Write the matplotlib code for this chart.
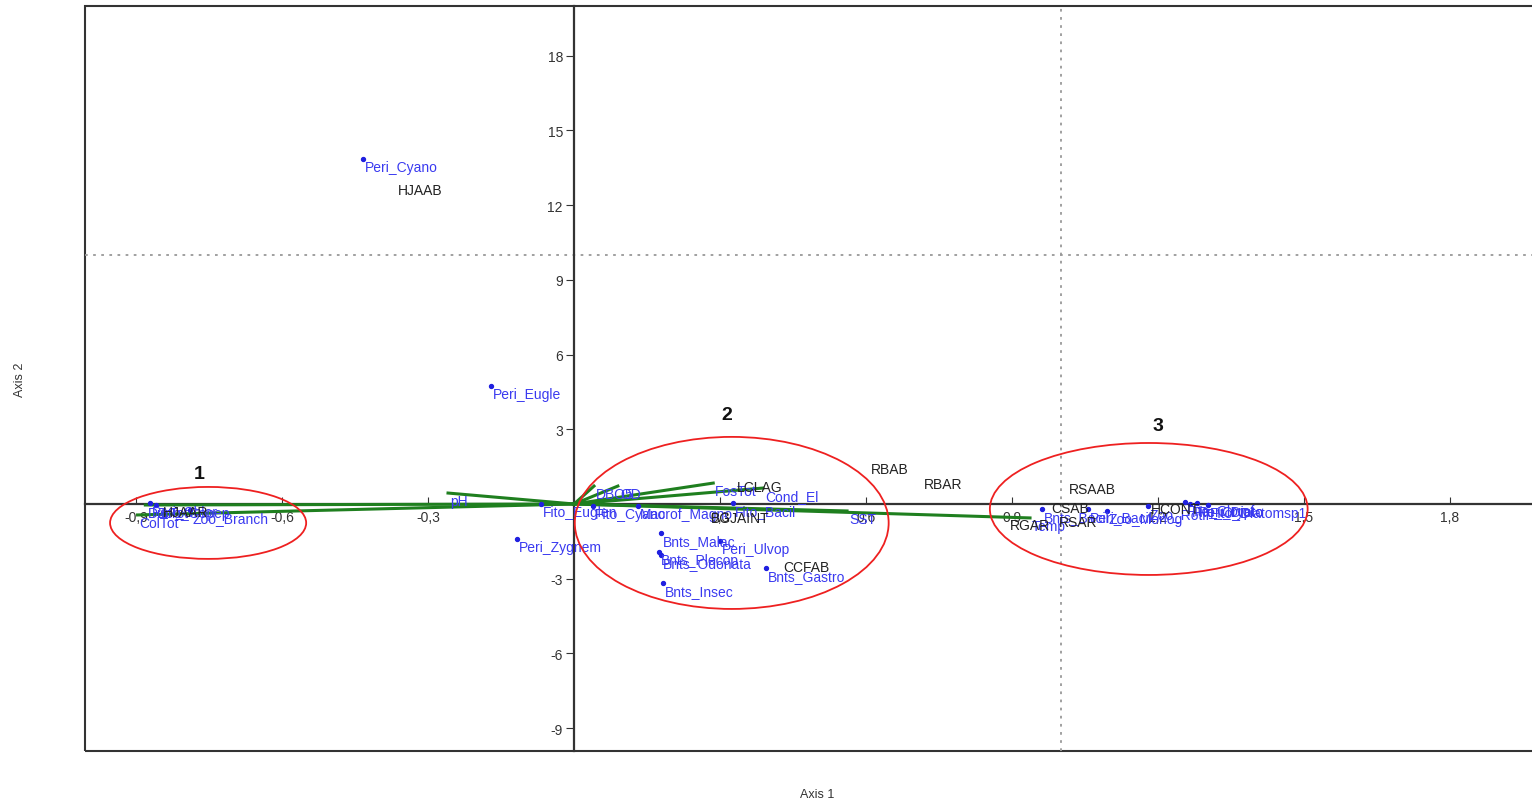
import matplotlib
matplotlib.use("Agg")
import matplotlib.pyplot as plt
from matplotlib.patches import Ellipse, Rectangle

plt.rcParams['font.family'] = ['Liberation Sans', 'DejaVu Sans']

# species scores (blue dots)
sp_names = ["Peri_Cyano", "Peri_Eugle", "Peri_Zygnem", "Fito_Euglen", "Fito_Cyano",
            "Macrof_Magno", "Fito_Bacil", "Bnts_Malac", "Bnts_Plecop", "Bnts_Odonata",
            "Peri_Ulvop", "Bnts_Gastro", "Bnts_Insec",
            "Peri_Chlor", "Zoo_Copep", "Zoo_Branch",
            "Bnts_Bacil", "Peri_Bacil", "Zoo_Monog", "Zoo_Rotif", "Fito_Clorof",
            "Fito_Crypto", "Peri_Diato", "Fito_Diatomsp1"]
sp_x = [-0.434, -0.171, -0.117, -0.068, 0.039,
        0.131, 0.327, 0.179, 0.175, 0.179,
        0.300, 0.394, 0.183,
        -0.871, -0.860, -0.789,
        0.962, 1.056, 1.095, 1.179, 1.255,
        1.266, 1.280, 1.303]
sp_y = [13.86, 4.74, -1.41, 0.0, -0.08,
        -0.08, 0.04, -1.17, -1.93, -2.05,
        -1.49, -2.57, -3.17,
        0.04, -0.05, -0.24,
        -0.20, -0.20, -0.28, -0.08, 0.08,
        0.0, 0.02, -0.04]

# site scores (black labels)
site_names = ["HJAAB", "HJAAR", "RBAB", "RBAR", "RSAAB", "LCLAG", "CCFAB",
              "BGJAINT", "CSAB", "RSAR", "RGAR", "HCONT"]
site_x = [-0.316, -0.799, 0.649, 0.758, 1.066, 0.382, 0.477,
          0.341, 1.019, 1.036, 0.937, 1.235]
site_y = [12.62, -0.32, 1.41, 0.80, 0.60, 0.68, -2.53,
          -0.56, -0.16, -0.72, -0.84, -0.20]

# environmental vectors (green)
env_names = ["pH", "ColTot", "DurTot", "DBO5", "OD", "FosTot", "Cond_El", "SST", "Temp"]
env_x = [-0.259, -0.897, -0.881, 0.041, 0.090, 0.286, 0.388, 0.561, 0.937]
env_y = [0.44, -0.44, -0.04, 0.72, 0.72, 0.84, 0.64, -0.28, -0.56]

# groups
grp_labels = ["1", "2", "3"]
grp_cx = [-0.752, 0.324, 1.181]
grp_cy = [-0.76, -0.76, -0.20]
grp_w = [0.403, 0.645, 0.653]
grp_h = [2.89, 6.91, 5.30]
grp_tx = [-0.771, 0.314, 1.200]
grp_ty = [1.21, 3.58, 3.17]

xticks = [-0.9, -0.6, -0.3, 0.3, 0.6, 0.9, 1.2, 1.5, 1.8]
yticks = [-9, -6, -3, 3, 6, 9, 12, 15, 18]

blue = "#3a3af0"
green = "#1f7f1f"

fig = plt.figure(figsize=(15.32, 8.03), dpi=100)
ax = fig.add_axes([85 / 1532, 51 / 803, 1455 / 1532, 745 / 803])
ax.set_xlim(-1.005, 1.985)
ax.set_ylim(-9.92, 20.0)

for s in ["top", "right"]:
    ax.spines[s].set_visible(False)
ax.spines["left"].set_position(("data", 0))
ax.spines["bottom"].set_position(("data", 0))
for s in ["left", "bottom"]:
    ax.spines[s].set_color("#333333")
    ax.spines[s].set_linewidth(1.6)
ax.add_patch(Rectangle((0, 0), 1, 1, transform=ax.transAxes, fill=False,
                       edgecolor="#333333", lw=1.5, clip_on=False))

ax.set_xticks(xticks)
ax.set_xticklabels([f"{v:.1f}".replace(".", ",") for v in xticks])
ax.set_yticks(yticks)
ax.set_yticklabels([str(v) for v in yticks])
ax.tick_params(axis="x", direction="in", length=5, pad=4, labelsize=10,
               labelcolor="#333333", color="#333333")
ax.tick_params(axis="y", direction="out", length=6, pad=2, labelsize=10,
               labelcolor="#333333", color="#333333")

ax.axvline(1.0, color="#999999", ls=(0, (1.5, 3)), lw=1.3)
ax.axhline(10.0, color="#999999", ls=(0, (1.5, 3)), lw=1.3)

for n, x, y in zip(env_names, env_x, env_y):
    ax.plot([0, x], [0, y], color=green, lw=2.2, zorder=3)
    ax.annotate(n, (x, y), xytext=(1.5, -5.5), textcoords="offset points",
                ha="left", va="center", color=blue, fontsize=10, zorder=5)

ax.scatter(sp_x, sp_y, s=8, color="#2020e0", zorder=4)
for n, x, y in zip(sp_names, sp_x, sp_y):
    ax.annotate(n, (x, y), xytext=(1.5, -5.5), textcoords="offset points",
                ha="left", va="center", color=blue, fontsize=10, zorder=5)

for n, x, y in zip(site_names, site_x, site_y):
    ax.text(x, y, n, ha="center", va="center", color="#222222", fontsize=10, zorder=5)

for lab, cx, cy, w, h, tx, ty in zip(grp_labels, grp_cx, grp_cy, grp_w, grp_h, grp_tx, grp_ty):
    ax.add_patch(Ellipse((cx, cy), w, h, fill=False, edgecolor="#ee2020", lw=1.3, zorder=6))
    ax.text(tx, ty, lab, ha="center", va="center", fontsize=14, fontweight="bold",
            color="#111111")

fig.text(817 / 1532, 1 - 795 / 803, "Axis 1", ha="center", va="center",
         fontsize=9, color="#333333")
fig.text(20 / 1532, 1 - 380 / 803, "Axis 2", ha="center", va="center",
         rotation=90, fontsize=9, color="#333333")

fig.savefig("out.png", dpi=100)
